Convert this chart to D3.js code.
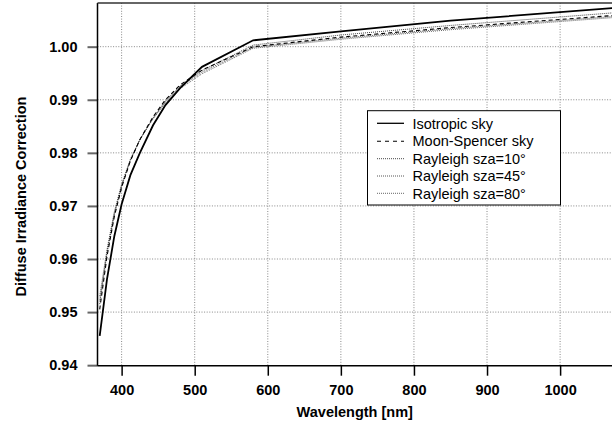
<!DOCTYPE html>
<html>
<head>
<meta charset="utf-8">
<script src="https://cdn.jsdelivr.net/npm/d3@7"></script>
<style>
  html, body { margin: 0; padding: 0; background: #fff; }
  svg { display: block; font-family: "Liberation Sans", Arial, Helvetica, sans-serif; }
</style>
</head>
<body>
<svg id="chart" width="612" height="427"></svg>
<script>
// ---- Data ----
const wavelengths = [370, 380, 390, 400, 412, 425, 443, 460, 480, 510, 580, 700, 850, 1075];
const isotropicSky   = [0.9455, 0.9562, 0.9643, 0.9703, 0.9758, 0.9800, 0.9852, 0.9890, 0.9922, 0.9962, 1.0012, 1.0029, 1.0049, 1.0073];
const moonSpencerSky = [0.9505, 0.9605, 0.9680, 0.9735, 0.9785, 0.9825, 0.9868, 0.9900, 0.9928, 0.9956, 1.0000, 1.0018, 1.0036, 1.0059];
const rayleigh10     = [0.9515, 0.9610, 0.9683, 0.9737, 0.9786, 0.9825, 0.9866, 0.9898, 0.9926, 0.9955, 1.0003, 1.0022, 1.0040, 1.0064];
const rayleigh45     = [0.9522, 0.9614, 0.9686, 0.9739, 0.9787, 0.9825, 0.9865, 0.9896, 0.9924, 0.9952, 0.9999, 1.0016, 1.0034, 1.0057];
const rayleigh80     = [0.9530, 0.9618, 0.9689, 0.9741, 0.9788, 0.9825, 0.9864, 0.9894, 0.9921, 0.9949, 0.9997, 1.0014, 1.0032, 1.0055];
const seriesNames = ["Isotropic sky", "Moon-Spencer sky", "Rayleigh sza=10°", "Rayleigh sza=45°", "Rayleigh sza=80°"];
const xTicks = [400, 500, 600, 700, 800, 900, 1000];
const yTicks = [0.94, 0.95, 0.96, 0.97, 0.98, 0.99, 1.00];
const xTitle = "Wavelength [nm]";
const yTitle = "Diffuse Irradiance Correction";

// ---- Layout ----
const svg = d3.select("#chart");
const L = 97.5, R = 612, T = 3, B = 365.7;
const x = d3.scaleLinear().domain([367, 1071]).range([L, R]);
const y = d3.scaleLinear().domain([0.9399, 1.00823]).range([B, T]);

const styles = [
  { stroke: "#000", width: 1.8, dash: null },
  { stroke: "#000", width: 1.1, dash: "4,3" },
  { stroke: "#333", width: 0.9, dash: "1,1" },
  { stroke: "#444", width: 0.9, dash: "1,1" },
  { stroke: "#555", width: 0.9, dash: "1,1" }
];
const seriesValues = [isotropicSky, moonSpencerSky, rayleigh10, rayleigh45, rayleigh80];

svg.append("defs").append("clipPath").attr("id", "plotclip")
  .append("rect").attr("x", L).attr("y", T).attr("width", R - L).attr("height", B - T);

// Grid
const grid = svg.append("g");
grid.selectAll("line.v").data(xTicks).join("line")
  .attr("x1", d => x(d)).attr("x2", d => x(d)).attr("y1", T).attr("y2", B)
  .attr("stroke", "#888").attr("stroke-width", 1).attr("stroke-dasharray", "1,1.6");
grid.selectAll("line.h").data(yTicks.filter(d => d > 0.945)).join("line")
  .attr("x1", L).attr("x2", R).attr("y1", d => y(d)).attr("y2", d => y(d))
  .attr("stroke", "#888").attr("stroke-width", 1).attr("stroke-dasharray", "1,1.6");

// Curves
const line = d3.line().x(d => x(d[0])).y(d => y(d[1]));
const curves = svg.append("g").attr("clip-path", "url(#plotclip)");
[4, 3, 2, 1, 0].forEach(i => {
  const pts = wavelengths.map((w, j) => [w, seriesValues[i][j]]);
  curves.append("path").attr("d", line(pts)).attr("fill", "none")
    .attr("stroke", styles[i].stroke).attr("stroke-width", styles[i].width)
    .attr("stroke-dasharray", styles[i].dash);
});

// Axes
const xAxis = d3.axisBottom(x).tickValues(xTicks).tickSize(10).tickPadding(9).tickFormat(d3.format("d"));
const gx = svg.append("g").attr("transform", `translate(0,${B})`).call(xAxis);
gx.select(".domain").remove();
gx.selectAll(".tick line").attr("stroke", "#000").attr("stroke-width", 1.5);
gx.selectAll("text").attr("font-size", 14.5).attr("font-weight", "bold").attr("fill", "#000")
  .attr("font-family", "Liberation Sans, Arial, sans-serif");

const yAxis = d3.axisLeft(y).tickValues(yTicks).tickSize(10).tickPadding(10).tickFormat(d3.format(".2f"));
const gy = svg.append("g").attr("transform", `translate(${L},0)`).call(yAxis);
gy.select(".domain").remove();
gy.selectAll(".tick line").attr("stroke", "#666").attr("stroke-width", 2);
gy.selectAll("text").attr("font-size", 14.5).attr("font-weight", "bold").attr("fill", "#000")
  .attr("font-family", "Liberation Sans, Arial, sans-serif");

// Frame lines
svg.append("line").attr("x1", L).attr("x2", L).attr("y1", T).attr("y2", B).attr("stroke", "#000").attr("stroke-width", 1.5);
svg.append("line").attr("x1", L).attr("x2", R).attr("y1", B).attr("y2", B).attr("stroke", "#000").attr("stroke-width", 1.5);
svg.append("line").attr("x1", L).attr("x2", R).attr("y1", T).attr("y2", T).attr("stroke", "#333").attr("stroke-width", 1.5);

// Titles
svg.append("text").attr("x", (L + R) / 2).attr("y", 417).attr("text-anchor", "middle")
  .attr("font-size", 14.5).attr("font-weight", "bold").text(xTitle);
svg.append("text").attr("transform", "translate(26,196.5) rotate(-90)").attr("text-anchor", "middle")
  .attr("font-size", 14.5).attr("font-weight", "bold").text(yTitle);

// Legend
const lg = svg.append("g");
lg.append("rect").attr("x", 367.5).attr("y", 110.7).attr("width", 193).attr("height", 94.3)
  .attr("fill", "#fff").attr("stroke", "#000").attr("stroke-width", 1);
const rowY = [123.3, 141.2, 158.7, 176, 193.3];
seriesNames.forEach((name, i) => {
  lg.append("line").attr("x1", 377).attr("x2", 404).attr("y1", rowY[i]).attr("y2", rowY[i])
    .attr("stroke", styles[i].stroke).attr("stroke-width", i === 0 ? 1.3 : styles[i].width)
    .attr("stroke-dasharray", i === 1 ? "4,4" : styles[i].dash);
  lg.append("text").attr("x", 412.5).attr("y", rowY[i]).attr("dy", "0.36em")
    .attr("font-size", 14.5).attr("fill", "#000").text(name);
});
</script>
</body>
</html>
